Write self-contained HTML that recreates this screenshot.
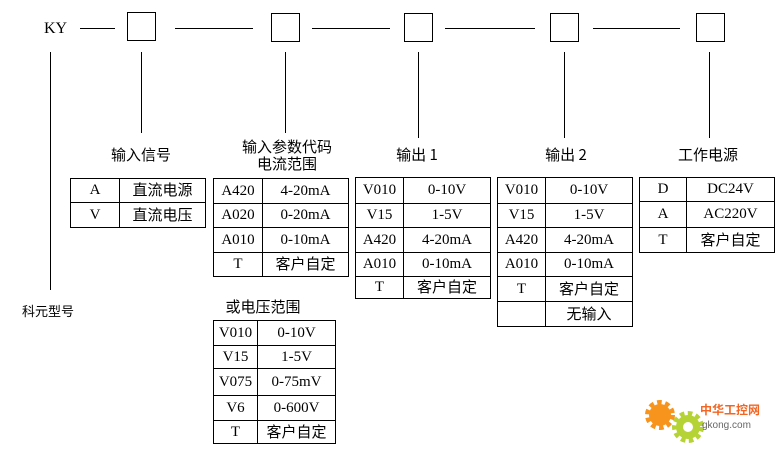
<!DOCTYPE html><html><head><meta charset="utf-8"><style>
body{margin:0;width:779px;height:454px;background:#fff;position:relative;overflow:hidden;font-family:"Liberation Serif","Noto Sans CJK SC",serif;color:#000}
.a{position:absolute}
.h{position:absolute;height:1px;background:#000}
.v{position:absolute;width:1px;background:#000}
.b{position:absolute;border:1px solid #000;width:27px;height:27px}
.t{position:absolute;font-size:15px;white-space:nowrap;transform:translateX(-50%);font-family:"Noto Sans CJK SC",sans-serif}
table{position:absolute;border-collapse:collapse;font-size:15px}
td{border:1px solid #000;text-align:center;padding:0;line-height:1}
td.c{font-family:"Liberation Sans","Noto Sans CJK SC",sans-serif;font-size:15px}
</style></head><body>
<div class="a" style="left:44px;top:20px;font-size:16px">KY</div>
<div class="h" style="left:80px;top:28px;width:35px"></div>
<div class="b" style="left:127px;top:12px"></div>
<div class="h" style="left:175px;top:28px;width:78px"></div>
<div class="b" style="left:271px;top:13px"></div>
<div class="h" style="left:312px;top:28px;width:78px"></div>
<div class="b" style="left:404px;top:13px"></div>
<div class="h" style="left:445px;top:28px;width:90px"></div>
<div class="b" style="left:550px;top:13px"></div>
<div class="h" style="left:593px;top:28px;width:87px"></div>
<div class="b" style="left:696px;top:13px"></div>
<div class="v" style="left:50px;top:52px;height:238px"></div>
<div class="v" style="left:141px;top:52px;height:81px"></div>
<div class="v" style="left:285px;top:52px;height:81px"></div>
<div class="v" style="left:418px;top:52px;height:86px"></div>
<div class="v" style="left:564px;top:52px;height:86px"></div>
<div class="v" style="left:709px;top:52px;height:86px"></div>
<div class="t" style="left:48px;top:301px;font-size:13px">科元型号</div>
<div class="t" style="left:141px;top:144px">输入信号</div>
<div class="t" style="left:287px;top:138px;line-height:17px;text-align:center">输入参数代码<br>电流范围</div>
<div class="t" style="left:417px;top:144px">输出 1</div>
<div class="t" style="left:566px;top:144px">输出 2</div>
<div class="t" style="left:708px;top:144px">工作电源</div>
<div class="t" style="left:263px;top:296px">或电压范围</div>
<table style="left:70px;top:178px;width:136px"><col style="width:49px"><col>
<tr style="height:24px"><td>A</td><td class="c">直流电源</td></tr>
<tr style="height:25px"><td>V</td><td class="c">直流电压</td></tr></table>
<table style="left:213px;top:178px;width:136px"><col style="width:49px"><col>
<tr style="height:25px"><td>A420</td><td>4-20mA</td></tr>
<tr style="height:24px"><td>A020</td><td>0-20mA</td></tr>
<tr style="height:25px"><td>A010</td><td>0-10mA</td></tr>
<tr style="height:24px"><td>T</td><td class="c">客户自定</td></tr></table>
<table style="left:355px;top:177px;width:136px"><col style="width:48px"><col>
<tr style="height:26px"><td>V010</td><td>0-10V</td></tr>
<tr style="height:24px"><td>V15</td><td>1-5V</td></tr>
<tr style="height:25px"><td>A420</td><td>4-20mA</td></tr>
<tr style="height:24px"><td>A010</td><td>0-10mA</td></tr>
<tr style="height:22px"><td>T</td><td class="c">客户自定</td></tr></table>
<table style="left:497px;top:177px;width:136px"><col style="width:48px"><col>
<tr style="height:26px"><td>V010</td><td>0-10V</td></tr>
<tr style="height:24px"><td>V15</td><td>1-5V</td></tr>
<tr style="height:25px"><td>A420</td><td>4-20mA</td></tr>
<tr style="height:24px"><td>A010</td><td>0-10mA</td></tr>
<tr style="height:25px"><td>T</td><td class="c">客户自定</td></tr>
<tr style="height:25px"><td></td><td class="c">无输入</td></tr></table>
<table style="left:639px;top:177px;width:136px"><col style="width:47px"><col>
<tr style="height:24px"><td>D</td><td>DC24V</td></tr>
<tr style="height:26px"><td>A</td><td>AC220V</td></tr>
<tr style="height:25px"><td>T</td><td class="c">客户自定</td></tr></table>
<table style="left:213px;top:320px;width:123px"><col style="width:44px"><col>
<tr style="height:25px"><td>V010</td><td>0-10V</td></tr>
<tr style="height:23px"><td>V15</td><td>1-5V</td></tr>
<tr style="height:27px"><td>V075</td><td>0-75mV</td></tr>
<tr style="height:25px"><td>V6</td><td>0-600V</td></tr>
<tr style="height:23px"><td>T</td><td class="c">客户自定</td></tr></table>
<svg class="a" style="left:640px;top:390px" width="139" height="64">
<circle cx="20" cy="25" r="11" fill="#f7941d" stroke="#f7941d" stroke-width="8" stroke-dasharray="4 3"/>
<circle cx="48" cy="37" r="12" fill="#b5d334" stroke="#b5d334" stroke-width="8" stroke-dasharray="4 3"/>
<circle cx="48" cy="37" r="5" fill="#fff"/>
<text x="60" y="24" font-size="12" font-weight="bold" fill="#f26522" font-family="Noto Sans CJK SC,sans-serif">中华工控网</text>
<text x="62" y="38" font-size="10" fill="#666" font-family="Liberation Sans,sans-serif">gkong.com</text>
</svg>
</body></html>
